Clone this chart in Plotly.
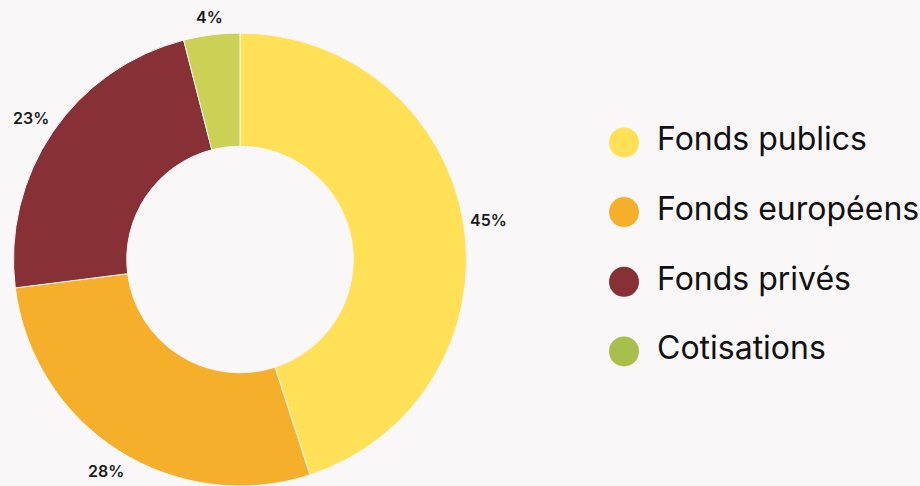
import math
import plotly.graph_objects as go

categories = ["Fonds publics", "Fonds européens", "Fonds privés", "Cotisations"]
values = [45, 28, 23, 4]
slice_colors = ["#FFE057", "#F5AF2A", "#873035", "#CBD155"]
legend_colors = ["#FFE057", "#F5AF2A", "#873035", "#A9BE4B"]

BG = "#F9F7F8"
FONT = "Inter"
W, H = 920, 486

# pie geometry (pixels)
CX, TOP, BOT = 240, 33, 486
R = (BOT - TOP) / 2
CY = TOP + R
LABEL_GAP = 10
LABEL_SIZE = 16

fig = go.Figure()

fig.add_trace(go.Pie(
    labels=categories,
    values=values,
    hole=0.5,
    sort=False,
    direction="clockwise",
    rotation=0,
    marker=dict(colors=slice_colors, line=dict(color=BG, width=1)),
    textinfo="none",
    showlegend=False,
    domain=dict(x=[(CX - R) / W, (CX + R) / W], y=[1 - BOT / H, 1 - TOP / H]),
))

# percentage labels outside each slice, at the slice mid-angle
total = sum(values)
cum = 0
for v in values:
    mid = (cum + v / 2) / total * 2 * math.pi
    cum += v
    txt = f"{v}%"
    hw = 0.6 * LABEL_SIZE * len(txt) / 2
    hh = 0.45 * LABEL_SIZE
    dist = R + LABEL_GAP + hw * abs(math.sin(mid)) + hh * abs(math.cos(mid))
    px = CX + dist * math.sin(mid)
    py = CY - dist * math.cos(mid)
    fig.add_annotation(
        x=px / W, y=1 - py / H, xref="paper", yref="paper",
        text=txt, showarrow=False,
        xanchor="center", yanchor="middle",
        font=dict(family=FONT, size=LABEL_SIZE, color="#1a1a1a", weight=600),
    )

idx = list(range(len(categories)))
fig.add_trace(go.Scatter(
    x=[72] * len(categories), y=idx, mode="markers",
    marker=dict(size=30, color=legend_colors, line=dict(width=0)),
    xaxis="x", yaxis="y", showlegend=False, hoverinfo="skip", cliponaxis=False,
))
fig.add_trace(go.Scatter(
    x=[105] * len(categories), y=idx, mode="text", text=categories,
    textposition="middle right",
    textfont=dict(family=FONT, size=32, color="#111111"),
    xaxis="x", yaxis="y", showlegend=False, hoverinfo="skip", cliponaxis=False,
))

fig.update_layout(
    width=W, height=H,
    margin=dict(l=0, r=0, t=0, b=0),
    paper_bgcolor=BG, plot_bgcolor="rgba(0,0,0,0)",
    xaxis=dict(domain=[0.6, 1.0], range=[0, 368], visible=False, fixedrange=True),
    yaxis=dict(domain=[0, 1], range=[4.93, -2.043], visible=False, fixedrange=True),
    showlegend=False,
)

fig.write_html("out.html")
